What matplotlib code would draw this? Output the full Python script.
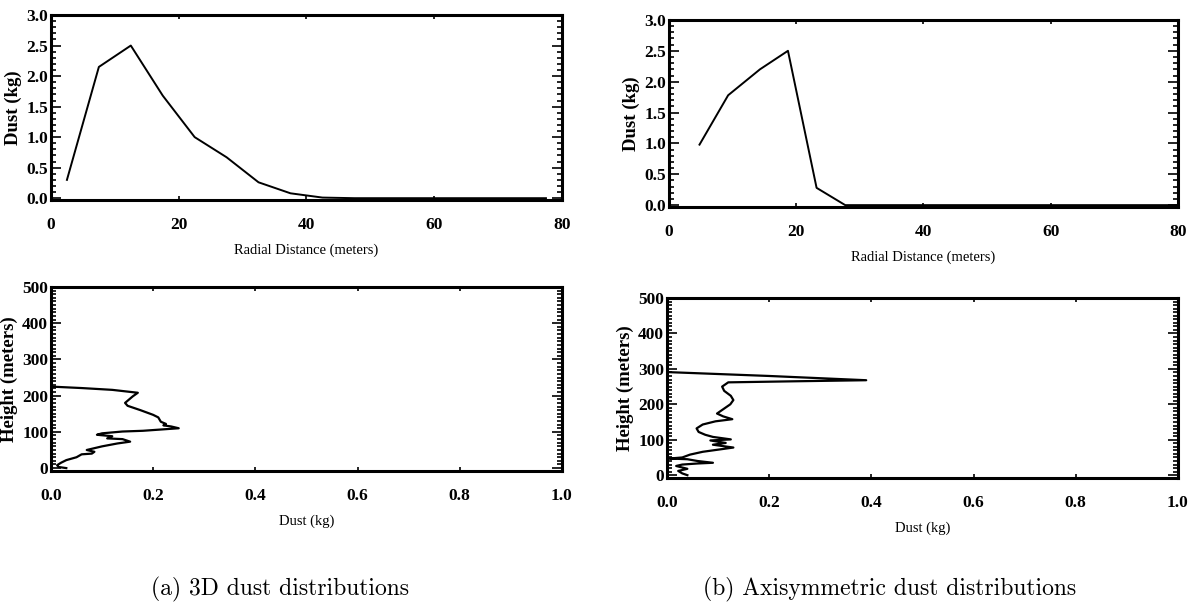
import matplotlib
matplotlib.use("Agg")
import matplotlib.pyplot as plt
from matplotlib.ticker import MultipleLocator

# radial dust profile, 3D run (5 m bins)
r_3d = [2.5, 7.5, 12.5, 17.5, 22.5, 27.5, 32.5, 37.5, 42.5, 47.5, 52.5,
        57.5, 62.5, 67.5, 72.5, 77.5]
dust_r_3d = [0.30, 2.15, 2.50, 1.68, 1.00, 0.67, 0.26, 0.08, 0.01, 0.0, 0.0,
             0.0, 0.0, 0.0, 0.0, 0.0]

# radial dust profile, axisymmetric run
r_axi = [4.8, 9.3, 14.3, 18.7, 23.2, 27.7, 32.2, 36.7, 41.2, 45.7, 50.2,
         54.7, 59.2, 63.7, 68.2, 72.7, 77.2, 80.0]
dust_r_axi = [0.98, 1.78, 2.20, 2.50, 0.28, 0.0, 0.0, 0.0, 0.0, 0.0, 0.0,
              0.0, 0.0, 0.0, 0.0, 0.0, 0.0, 0.0]

# vertical dust profile, 3D run (top of column down to the ground)
dust_z_3d = [0.0, 0.06, 0.12, 0.17, 0.16, 0.145, 0.15, 0.175, 0.20, 0.21,
             0.215, 0.225, 0.22, 0.235, 0.25, 0.21, 0.18, 0.14, 0.10, 0.09,
             0.12, 0.11, 0.14, 0.155, 0.13, 0.10, 0.07, 0.085, 0.08, 0.06,
             0.05, 0.03, 0.02, 0.012, 0.015, 0.03]
height_3d = [225, 221, 216, 208, 198, 180, 172, 160, 147, 140,
             128, 122, 118, 115, 110, 106, 103, 101, 96, 92,
             88, 82, 80, 73, 68, 60, 50, 45, 40, 38,
             30, 22, 15, 8, 3, 0]

# vertical dust profile, axisymmetric run
dust_z_axi = [0.0, 0.20, 0.39, 0.25, 0.12, 0.108, 0.112, 0.125, 0.13, 0.124,
              0.110, 0.098, 0.11, 0.128, 0.095, 0.07, 0.058, 0.062, 0.075,
              0.09, 0.125, 0.085, 0.115, 0.09, 0.13, 0.10, 0.07, 0.045, 0.03,
              0.005, 0.04, 0.06, 0.09, 0.06, 0.03, 0.018, 0.04, 0.022, 0.03,
              0.04]
height_axi = [291, 280, 268, 265, 262, 250, 238, 224, 212, 200,
              186, 174, 166, 158, 152, 143, 132, 122, 114,
              108, 101, 98, 91, 86, 78, 72, 66, 58, 50,
              47, 45, 40, 35, 33, 30, 26, 18, 12, 5,
              0]

r_ticks = [0, 20, 40, 60, 80]
r_ticklabels = ["0", "20", "40", "60", "80"]
dust_ticks = [0.0, 0.5, 1.0, 1.5, 2.0, 2.5, 3.0]
dust_ticklabels = ["0.0", "0.5", "1.0", "1.5", "2.0", "2.5", "3.0"]
kg_ticks = [0.0, 0.2, 0.4, 0.6, 0.8, 1.0]
kg_ticklabels = ["0.0", "0.2", "0.4", "0.6", "0.8", "1.0"]
h_ticks = [0, 100, 200, 300, 400, 500]
h_ticklabels = ["0", "100", "200", "300", "400", "500"]

captions = ["(a) 3D dust distributions", "(b) Axisymmetric dust distributions"]

tick_font = dict(family="Liberation Serif", weight="bold", size=12.5)
xlab_font = dict(family="Liberation Serif", size=10.5)
ylab_font = dict(family="Liberation Serif", weight="bold", size=13.5)


def idl_axes(ax, xticks, xlabels, yticks, ylabels, yminor, xlabel, ylabel):
    ax.set_xticks(xticks)
    ax.set_xticklabels(xlabels, fontdict=tick_font)
    ax.set_yticks(yticks)
    ax.set_yticklabels(ylabels, fontdict=tick_font)
    ax.yaxis.set_minor_locator(MultipleLocator(yminor))
    ax.tick_params(axis="both", which="both", direction="in",
                   top=True, right=True, width=1.2, colors="black")
    ax.tick_params(axis="x", which="major", length=3, pad=12)
    ax.tick_params(axis="y", which="major", length=7, pad=2)
    ax.tick_params(axis="y", which="minor", length=3.5)
    for s in ax.spines.values():
        s.set_linewidth(2.2)
    ax.set_xlabel(xlabel, fontdict=xlab_font, labelpad=8)
    ax.set_ylabel(ylabel, fontdict=ylab_font, labelpad=3)


fig = plt.figure(figsize=(11.88, 6.16), dpi=100)

ax1 = fig.add_axes([0.0429, 0.6753, 0.4301, 0.3003])
ax1.plot(r_3d, dust_r_3d, color="black", lw=1.4)
ax1.set_xlim(0, 80)
ax1.set_ylim(-0.03, 3.0)
idl_axes(ax1, r_ticks, r_ticklabels, dust_ticks, dust_ticklabels, 0.1,
         "Radial Distance (meters)", "Dust (kg)")

ax2 = fig.add_axes([0.5631, 0.664, 0.4285, 0.3036])
ax2.plot(r_axi, dust_r_axi, color="black", lw=1.4)
ax2.set_xlim(0, 80)
ax2.set_ylim(-0.03, 3.0)
idl_axes(ax2, r_ticks, r_ticklabels, dust_ticks, dust_ticklabels, 0.1,
         "Radial Distance (meters)", "Dust (kg)")

ax3 = fig.add_axes([0.0429, 0.2354, 0.4301, 0.2987])
ax3.plot(dust_z_3d, height_3d, color="black", lw=1.6)
ax3.set_xlim(0, 1)
ax3.set_ylim(-8, 500)
idl_axes(ax3, kg_ticks, kg_ticklabels, h_ticks, h_ticklabels, 10,
         "Dust (kg)", "Height (meters)")

ax4 = fig.add_axes([0.5614, 0.224, 0.4301, 0.2922])
ax4.plot(dust_z_axi, height_axi, color="black", lw=1.6)
ax4.set_xlim(0, 1)
ax4.set_ylim(-8, 500)
idl_axes(ax4, kg_ticks, kg_ticklabels, h_ticks, h_ticklabels, 10,
         "Dust (kg)", "Height (meters)")

fig.text(0.236, 0.033, captions[0], family="cmr10", size=17, ha="center")
fig.text(0.749, 0.033, captions[1], family="cmr10", size=17, ha="center")

fig.savefig("out.png", dpi=100)
